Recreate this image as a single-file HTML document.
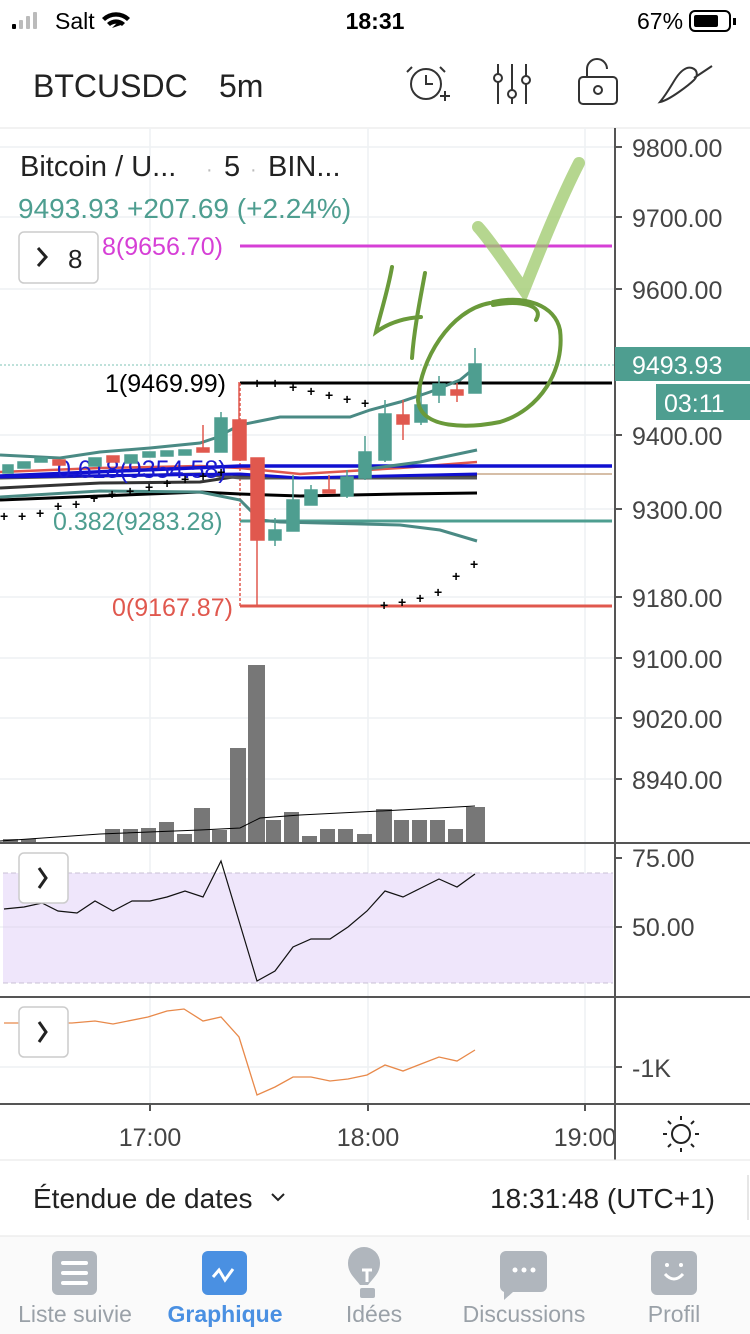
<!DOCTYPE html>
<html><head><meta charset="utf-8"><style>
body{margin:0;width:750px;height:1334px;overflow:hidden;background:#fff;font-family:"Liberation Sans",sans-serif;}
svg{display:block}
</style></head><body>
<svg width="750" height="1334" viewBox="0 0 750 1334" font-family="Liberation Sans, sans-serif">
<!-- status bar -->
<g fill="#000">
<rect x="12" y="24" width="4" height="5" rx="1"/><rect x="19" y="20" width="4" height="9" rx="1" fill="#bbb"/><rect x="26" y="16" width="4" height="13" rx="1" fill="#bbb"/><rect x="33" y="12" width="4" height="17" rx="1" fill="#bbb"/>
<text x="55" y="29" font-size="23">Salt</text>
<path d="M112 28 l4-4 a6 6 0 0 1 8 0z M107 23 a13 13 0 0 1 18 0 l-3 3 a9 9 0 0 0 -12 0z M102 18 a20 20 0 0 1 28 0 l-3 3 a16 16 0 0 0 -22 0z"/>
<text x="375" y="29" font-size="23" font-weight="bold" text-anchor="middle">18:31</text>
<text x="637" y="29" font-size="23">67%</text>
<rect x="690" y="11" width="40" height="20" rx="5" fill="none" stroke="#000" stroke-width="2"/>
<rect x="694" y="15" width="24" height="12" rx="2"/><rect x="733" y="18" width="3" height="7"/>
</g>
<!-- header -->
<text x="33" y="97" font-size="32" fill="#222">BTCUSDC</text>
<text x="219" y="97" font-size="32" fill="#222">5m</text>
<g stroke="#333" stroke-width="2" fill="none">
<circle cx="426" cy="84" r="15"/><path d="M426 75v9h7 M412 67l-5 5 M440 67l5 5 M440 96h10 M445 91v10"/>
<path d="M498 64v40 M512 64v40 M526 64v40"/><circle cx="498" cy="78" r="4" fill="#fff"/><circle cx="512" cy="94" r="4" fill="#fff"/><circle cx="526" cy="80" r="4" fill="#fff"/>
<rect x="579" y="77" width="38" height="27" rx="4"/><path d="M587 77v-8a10 10 0 0 1 20 0"/><circle cx="598" cy="90" r="4"/>
<path d="M660 102c10-2 30-18 34-22c4-4 4-10-2-12c-6-2-12 4-16 10c-4 6-8 14-16 24z M694 78l18-12"/>
</g>
<line x1="0" y1="128" x2="750" y2="128" stroke="#e6e6e6"/>
<!-- grid -->
<g stroke="#eef1f4" stroke-width="1.5">
<line x1="150" y1="128" x2="150" y2="1104"/><line x1="368" y1="128" x2="368" y2="1104"/><line x1="585" y1="128" x2="585" y2="1104"/>
<line x1="0" y1="147" x2="615" y2="147"/><line x1="0" y1="217" x2="615" y2="217"/><line x1="0" y1="289" x2="615" y2="289"/><line x1="0" y1="435" x2="615" y2="435"/><line x1="0" y1="509" x2="615" y2="509"/><line x1="0" y1="597" x2="615" y2="597"/><line x1="0" y1="658" x2="615" y2="658"/><line x1="0" y1="718" x2="615" y2="718"/><line x1="0" y1="779" x2="615" y2="779"/>
<line x1="0" y1="927" x2="615" y2="927"/><line x1="0" y1="1067" x2="615" y2="1067"/>
</g>
<!-- right axis -->
<line x1="615" y1="128" x2="615" y2="1160" stroke="#555" stroke-width="2"/>
<g font-size="25" fill="#444">
<text x="632" y="157">9800.00</text><text x="632" y="227">9700.00</text><text x="632" y="299">9600.00</text><text x="632" y="445">9400.00</text><text x="632" y="519">9300.00</text><text x="632" y="607">9180.00</text><text x="632" y="668">9100.00</text><text x="632" y="728">9020.00</text><text x="632" y="789">8940.00</text>
<text x="632" y="867">75.00</text><text x="632" y="936">50.00</text><text x="632" y="1077">-1K</text>
</g>
<g stroke="#555" stroke-width="2"><line x1="615" y1="147" x2="622" y2="147"/><line x1="615" y1="217" x2="622" y2="217"/><line x1="615" y1="289" x2="622" y2="289"/><line x1="615" y1="435" x2="622" y2="435"/><line x1="615" y1="509" x2="622" y2="509"/><line x1="615" y1="597" x2="622" y2="597"/><line x1="615" y1="658" x2="622" y2="658"/><line x1="615" y1="718" x2="622" y2="718"/><line x1="615" y1="779" x2="622" y2="779"/><line x1="615" y1="858" x2="622" y2="858"/><line x1="615" y1="927" x2="622" y2="927"/><line x1="615" y1="1067" x2="622" y2="1067"/></g>
<rect x="615" y="347" width="135" height="34" fill="#4e9e90"/><text x="632" y="374" font-size="25" fill="#fff">9493.93</text>
<rect x="656" y="384" width="94" height="36" fill="#4e9e90"/><text x="664" y="412" font-size="25" fill="#fff">03:11</text>
<line x1="0" y1="365" x2="615" y2="365" stroke="#7cc3b6" stroke-dasharray="2 2"/>
<!-- legend -->
<text x="20" y="176" font-size="29" fill="#222">Bitcoin / U...</text>
<text x="206" y="176" font-size="20" fill="#bbb">·</text><text x="224" y="176" font-size="29" fill="#222">5</text><text x="250" y="176" font-size="20" fill="#bbb">·</text><text x="268" y="176" font-size="29" fill="#222">BIN...</text>
<text x="18" y="218" font-size="28" fill="#4e9e90">9493.93  +207.69 (+2.24%)</text>
<rect x="19" y="232" width="79" height="51" rx="5" fill="#fff" stroke="#ccc" stroke-width="1.5"/>
<path d="M38 248l8 9-8 9" stroke="#222" stroke-width="3" fill="none"/><text x="68" y="268" font-size="26" fill="#222">8</text>
<!-- fib lines -->
<text x="102" y="255" font-size="25" fill="#d63fd6">8(9656.70)</text>
<line x1="240" y1="246" x2="612" y2="246" stroke="#d63fd6" stroke-width="3"/>
<line x1="240" y1="383" x2="612" y2="383" stroke="#000" stroke-width="3"/>
<line x1="240" y1="521" x2="612" y2="521" stroke="#4e9e90" stroke-width="3"/>
<line x1="240" y1="606" x2="612" y2="606" stroke="#e0584e" stroke-width="3"/>
<line x1="240" y1="383" x2="240" y2="606" stroke="#e0584e" stroke-width="1.5" stroke-dasharray="3 2"/>
<!-- MAs -->
<g fill="none" stroke-width="3">
<path d="M0 488 L100 483 L200 482 L240 476 L300 478 L400 477 L477 476" stroke="#333"/>
<path d="M0 478 L100 476 L200 474 L240 478 L300 478 L400 478 L477 478" stroke="#555"/>
<path d="M0 472 L100 468 L200 466 L240 468 L300 474 L400 468 L477 462" stroke="#e0584e" stroke-width="2.5"/>
<path d="M0 476 L240 466 L612 466" stroke="#1010d0" stroke-width="3.5"/>
<path d="M0 477 L240 474 L300 478 L477 474" stroke="#1010d0"/>
<path d="M0 500 L100 496 L200 492 L240 494 L300 496 L400 494 L477 493" stroke="#000"/>
<path d="M477 474 L612 474" stroke="#c9a98a" stroke-width="1.5"/>
<path d="M0 455 L60 458 L100 452 L150 448 L200 443 L215 438 L240 425 L280 417 L350 417 L370 410 L400 402 L430 392 L460 380 L477 366" stroke="#4a8a84"/>
<path d="M0 497 L100 491 L200 492 L240 500 L260 520 L280 522 L400 525 L440 530 L477 541" stroke="#4a8a84"/>
<path d="M360 470 L420 462 L477 450" stroke="#4a8a84"/>
</g>
<text x="105" y="392" font-size="25" fill="#000">1(9469.99)</text>
<text x="53" y="530" font-size="25" fill="#4e9e90">0.382(9283.28)</text>
<text x="112" y="616" font-size="25" fill="#e0584e">0(9167.87)</text>
<text x="57" y="478" font-size="25" fill="#1a1ad0">0.618(9354.58)</text>
<!-- PSAR dots -->
<g font-size="14" fill="#000" font-weight="bold">
<text x="0" y="521">+</text><text x="18" y="521">+</text><text x="36" y="518">+</text><text x="54" y="511">+</text><text x="72" y="509">+</text><text x="90" y="503">+</text><text x="108" y="499">+</text><text x="126" y="496">+</text><text x="145" y="492">+</text><text x="163" y="488">+</text><text x="181" y="484">+</text><text x="199" y="481">+</text><text x="217" y="477">+</text>
<text x="253" y="388">+</text><text x="271" y="388">+</text><text x="289" y="392">+</text><text x="307" y="396">+</text><text x="325" y="400">+</text><text x="343" y="404">+</text><text x="361" y="408">+</text>
<text x="380" y="610">+</text><text x="398" y="607">+</text><text x="416" y="603">+</text><text x="434" y="597">+</text><text x="452" y="581">+</text><text x="470" y="569">+</text>
</g>
<!-- candles -->
<g stroke-width="1.5">
<g fill="#4e9e90" stroke="#4e9e90">
<rect x="3" y="465" width="10" height="8"/><rect x="18" y="462" width="12" height="6"/><rect x="35" y="458" width="12" height="4"/><rect x="89" y="458" width="12" height="8"/><rect x="125" y="455" width="12" height="8"/><rect x="143" y="452" width="12" height="5"/><rect x="161" y="451" width="12" height="5"/><rect x="179" y="450" width="12" height="5"/>
<line x1="221" y1="412" x2="221" y2="452"/><rect x="215" y="418" width="12" height="34"/>
<line x1="275" y1="518" x2="275" y2="546"/><rect x="269" y="530" width="12" height="10"/>
<line x1="293" y1="475" x2="293" y2="531"/><rect x="287" y="500" width="12" height="31"/>
<line x1="311" y1="485" x2="311" y2="505"/><rect x="305" y="490" width="12" height="15"/>
<line x1="347" y1="470" x2="347" y2="498"/><rect x="341" y="477" width="12" height="19"/>
<line x1="365" y1="436" x2="365" y2="480"/><rect x="359" y="452" width="12" height="26"/>
<line x1="385" y1="400" x2="385" y2="462"/><rect x="379" y="414" width="12" height="46"/>
<line x1="421" y1="385" x2="421" y2="425"/><rect x="415" y="405" width="12" height="17"/>
<line x1="439" y1="376" x2="439" y2="403"/><rect x="433" y="384" width="12" height="11"/>
<line x1="475" y1="348" x2="475" y2="393"/><rect x="469" y="364" width="12" height="29"/>
</g>
<g fill="#e0584e" stroke="#e0584e">
<rect x="53" y="460" width="12" height="5"/><rect x="107" y="456" width="12" height="6"/>
<line x1="203" y1="425" x2="203" y2="452"/><rect x="197" y="448" width="12" height="4"/>
<line x1="239" y1="382" x2="239" y2="460"/><rect x="233" y="420" width="13" height="40"/>
<line x1="257" y1="458" x2="257" y2="607"/><rect x="251" y="458" width="13" height="82"/>
<line x1="329" y1="475" x2="329" y2="493"/><rect x="323" y="490" width="12" height="3"/>
<line x1="403" y1="400" x2="403" y2="440"/><rect x="397" y="415" width="12" height="9"/>
<line x1="457" y1="383" x2="457" y2="402"/><rect x="451" y="390" width="12" height="5"/>
</g>
</g>
<!-- volume -->
<g fill="#777">
<rect x="3" y="839" width="15" height="4"/><rect x="21" y="839" width="15" height="4"/><rect x="105" y="829" width="15" height="14"/><rect x="123" y="829" width="15" height="14"/><rect x="141" y="828" width="15" height="15"/><rect x="159" y="822" width="15" height="21"/><rect x="177" y="834" width="15" height="9"/><rect x="194" y="808" width="16" height="35"/><rect x="212" y="830" width="15" height="13"/><rect x="230" y="748" width="16" height="95"/><rect x="248" y="665" width="17" height="178"/><rect x="266" y="820" width="15" height="23"/><rect x="284" y="812" width="15" height="31"/><rect x="302" y="836" width="15" height="7"/><rect x="320" y="829" width="15" height="14"/><rect x="338" y="829" width="15" height="14"/><rect x="357" y="834" width="15" height="9"/><rect x="376" y="809" width="16" height="34"/><rect x="394" y="820" width="15" height="23"/><rect x="412" y="820" width="15" height="23"/><rect x="430" y="820" width="15" height="23"/><rect x="448" y="829" width="15" height="14"/><rect x="466" y="807" width="19" height="36"/>
</g>
<path d="M0 841 L100 834 L200 830 L240 828 L260 818 L300 815 L400 810 L475 806" stroke="#000" fill="none"/>
<line x1="0" y1="843" x2="750" y2="843" stroke="#555" stroke-width="2"/>
<!-- RSI -->
<rect x="3" y="873" width="610" height="110" fill="#efe6fb"/>
<line x1="3" y1="873" x2="613" y2="873" stroke="#c8c0d4" stroke-dasharray="5 3"/><line x1="3" y1="983" x2="613" y2="983" stroke="#c8c0d4" stroke-dasharray="5 3"/>
<line x1="3" y1="927" x2="613" y2="927" stroke="#e2daec"/>
<polyline fill="none" stroke="#111" stroke-width="1.2" points="4,909 24,907 42,903 58,911 77,913 95,901 113,911 132,901 150,901 167,897 185,891 203,897 221,861 257,981 275,971 293,947 311,939 330,939 348,927 367,911 385,891 403,897 421,888 439,879 457,887 475,874"/>
<rect x="19" y="853" width="49" height="50" rx="5" fill="#fff" stroke="#ccc" stroke-width="1.5"/><path d="M39 868l7 10-7 10" stroke="#222" stroke-width="3" fill="none"/>
<line x1="0" y1="997" x2="750" y2="997" stroke="#555" stroke-width="2"/>
<polyline fill="none" stroke="#e8894a" stroke-width="1.3" points="4,1023 72,1023 95,1021 113,1024 148,1017 167,1011 184,1009 203,1021 221,1017 239,1037 257,1095 275,1087 293,1077 311,1077 330,1081 348,1079 367,1075 385,1065 403,1071 421,1064 439,1057 457,1061 475,1050"/>
<rect x="19" y="1007" width="49" height="50" rx="5" fill="#fff" stroke="#ccc" stroke-width="1.5"/><path d="M39 1022l7 10-7 10" stroke="#222" stroke-width="3" fill="none"/>
<line x1="0" y1="1104" x2="750" y2="1104" stroke="#555" stroke-width="2"/>
<!-- time axis -->
<g stroke="#555" stroke-width="2"><line x1="150" y1="1104" x2="150" y2="1111"/><line x1="368" y1="1104" x2="368" y2="1111"/><line x1="585" y1="1104" x2="585" y2="1111"/></g>
<g font-size="25" fill="#444" text-anchor="middle"><text x="150" y="1146">17:00</text><text x="368" y="1146">18:00</text><text x="585" y="1146">19:00</text></g>
<rect x="615" y="1105" width="135" height="55" fill="#fff"/>
<line x1="615" y1="1104" x2="615" y2="1160" stroke="#555" stroke-width="2"/>
<g stroke="#222" stroke-width="2" fill="none"><circle cx="681" cy="1134" r="9"/><path d="M681 1120v-4 M681 1148v4 M667 1134h-4 M695 1134h4 M671 1124l-3-3 M691 1144l3 3 M691 1124l3-3 M671 1144l-3 3"/></g>
<line x1="0" y1="1160" x2="750" y2="1160" stroke="#e6e6e6"/>
<text x="33" y="1208" font-size="28" fill="#222">Étendue de dates</text><path d="M272 1194l6 6 6-6" stroke="#222" stroke-width="2" fill="none"/>
<text x="715" y="1208" font-size="28" fill="#222" text-anchor="end">18:31:48 (UTC+1)</text>
<line x1="748" y1="1175" x2="748" y2="1220" stroke="#ccc"/>
<!-- tab bar -->
<rect x="0" y="1236" width="750" height="98" fill="#fafafa"/><line x1="0" y1="1236" x2="750" y2="1236" stroke="#e6e6e6"/>
<rect x="52" y="1251" width="45" height="44" rx="6" fill="#b0b6bd"/><g stroke="#fff" stroke-width="4" stroke-linecap="round"><line x1="63" y1="1263" x2="86" y2="1263"/><line x1="63" y1="1273" x2="86" y2="1273"/><line x1="63" y1="1283" x2="86" y2="1283"/></g>
<rect x="202" y="1251" width="45" height="44" rx="6" fill="#4a90e2"/><path d="M213 1277l6-7 6 10 8-11" stroke="#fff" stroke-width="3" fill="none"/>
<path d="M360 1285 c-6-8-12-12-12-22 a16 16 0 0 1 32 0 c0 10-6 14-12 22z" fill="#b0b6bd"/><rect x="360" y="1288" width="15" height="10" rx="2" fill="#b0b6bd"/><path d="M362 1270h10 M367 1270v12" stroke="#fff" stroke-width="3"/>
<path d="M506 1251h35a6 6 0 0 1 6 6v29a6 6 0 0 1-6 6h-28l-9 8v-8a6 6 0 0 1-4-6v-29a6 6 0 0 1 6-6z" fill="#b0b6bd"/><g fill="#fff"><circle cx="515" cy="1270" r="2.5"/><circle cx="524" cy="1270" r="2.5"/><circle cx="533" cy="1270" r="2.5"/></g>
<rect x="651" y="1251" width="46" height="44" rx="6" fill="#b0b6bd"/><g fill="#fff"><circle cx="667" cy="1265" r="2"/><circle cx="681" cy="1265" r="2"/></g><path d="M665 1274q9 10 18 0" stroke="#fff" stroke-width="3" fill="none"/>
<g font-size="23" text-anchor="middle" fill="#9aa1a8"><text x="75" y="1322">Liste suivie</text><text x="225" y="1322" fill="#4a90e2" font-weight="bold">Graphique</text><text x="374" y="1322">Idées</text><text x="524" y="1322">Discussions</text><text x="674" y="1322">Profil</text></g>
<!-- hand drawings -->
<path d="M478 227 C490 240 510 270 524 290 C540 250 560 200 579 163" stroke="#9cc86a" stroke-opacity="0.75" stroke-width="12" fill="none" stroke-linecap="round"/>
<g stroke="#6a9a3a" stroke-width="4" fill="none" stroke-linecap="round">
<path d="M392 267 C388 290 380 315 376 332 C390 322 405 318 421 317"/>
<path d="M425 273 C420 300 414 330 412 358"/>
<path d="M493 305 C520 300 545 305 536 320 M490 303 C450 310 420 360 418 400 C420 430 470 428 500 422 C540 410 565 370 560 330 C555 305 525 295 493 302"/>
</g>
</svg>
</body></html>
